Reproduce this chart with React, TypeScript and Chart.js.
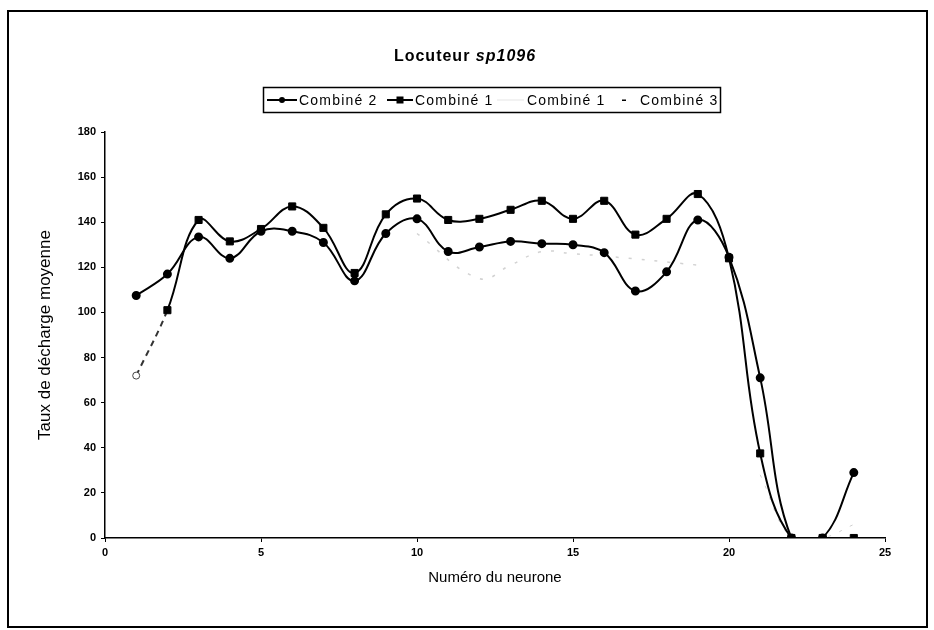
import React, { useEffect, useRef } from "react";
import { Chart, registerables } from "chart.js";

Chart.register(...registerables);

const neurons = [1, 2, 3, 4, 5, 6, 7, 8, 9, 10, 11, 12, 13, 14, 15, 16, 17, 18, 19, 20, 21, 22, 23, 24];
const combine2 = [107.5, 117, 133.5, 124, 136, 136, 131, 114, 135, 141.5, 127, 129, 131.5, 130.5, 130, 126.5, 109.5, 118, 141, 124.5, 71, 0, 0, 29];
const combine1 = [72, 101, 141, 131.5, 137, 147, 137.5, 117.5, 143.5, 150.5, 141, 141.5, 145.5, 149.5, 141.5, 149.5, 134.5, 141.5, 152.5, 124, 37.5, 0, 0, 0];
const combine1b = [72, null, null, null, null, null, null, 87, null, null, null, null, null, null, null, null, null, null, null, null, 28, 0, 0, 6];
const combine3 = [null, null, null, null, null, null, null, null, null, 135, null, 115, 121, 127, 126, 125, null, null, 121, null, null, null, null, null];

const xTicks = [0, 5, 10, 15, 20, 25];
const yTicks = [0, 20, 40, 60, 80, 100, 120, 140, 160, 180];

const legendLabels = ["Combiné 2", "Combiné 1", "Combiné 1", "Combiné 3"];
const titleMain = "Locuteur ";
const titleItalic = "sp1096";

const FONT = '"Liberation Sans", Arial, sans-serif';

const toPoints = (vals: (number | null)[]) => neurons.map((n, i) => ({ x: n, y: vals[i] }));

const decorPlugin = {
  id: "decor",
  afterDraw(chart: any) {
    const ctx = chart.ctx as CanvasRenderingContext2D;
    ctx.save();
    // outer frame
    ctx.strokeStyle = "#000";
    ctx.lineWidth = 2;
    ctx.strokeRect(8, 11, 919, 616);

    // title
    ctx.fillStyle = "#000";
    ctx.textBaseline = "middle";
    ctx.textAlign = "left";
    (ctx as any).letterSpacing = "1px";
    const f1 = `bold 16px ${FONT}`;
    const f2 = `italic bold 16px ${FONT}`;
    ctx.font = f1;
    const w1 = ctx.measureText(titleMain).width;
    ctx.font = f2;
    const w2 = ctx.measureText(titleItalic).width;
    const tx = 465 - (w1 + w2) / 2;
    ctx.font = f1;
    ctx.fillText(titleMain, tx, 57);
    ctx.font = f2;
    ctx.fillText(titleItalic, tx + w1, 57);

    // legend box
    ctx.lineWidth = 1.5;
    ctx.strokeRect(263.5, 87.5, 457, 25);
    const ly = 100;
    ctx.font = `14px ${FONT}`;
    (ctx as any).letterSpacing = "1.2px";

    // item 1
    ctx.strokeStyle = "#000";
    ctx.lineWidth = 2;
    ctx.beginPath();
    ctx.moveTo(267, ly);
    ctx.lineTo(297, ly);
    ctx.stroke();
    ctx.beginPath();
    ctx.arc(282, ly, 3, 0, Math.PI * 2);
    ctx.fill();
    ctx.fillText(legendLabels[0], 299, ly + 1);

    // item 2
    ctx.beginPath();
    ctx.moveTo(387, ly);
    ctx.lineTo(413, ly);
    ctx.stroke();
    ctx.fillRect(396.5, ly - 3.5, 7, 7);
    ctx.fillText(legendLabels[1], 415, ly + 1);

    // item 3 (faint)
    ctx.strokeStyle = "#f2f2f2";
    ctx.beginPath();
    ctx.moveTo(497, ly);
    ctx.lineTo(524, ly);
    ctx.stroke();
    ctx.fillText(legendLabels[2], 527, ly + 1);

    // item 4 (faint dashed)
    ctx.fillStyle = "#000";
    ctx.fillRect(622, ly - 0.5, 4, 1.5);
    ctx.fillText(legendLabels[3], 640, ly + 1);

    ctx.restore();
  },
};

export default function App() {
  const ref = useRef<HTMLCanvasElement | null>(null);

  useEffect(() => {
    if (!ref.current) return;
    Chart.defaults.font.family = FONT;
    const chart = new Chart(ref.current, {
      type: "line",
      data: {
        datasets: [
          {
            label: legendLabels[0],
            data: toPoints(combine2),
            borderColor: "#000",
            backgroundColor: "#000",
            borderWidth: 2,
            pointStyle: "circle",
            pointRadius: 3.5,
            pointBackgroundColor: "#000",
            pointBorderColor: "#000",
            tension: 0.4,
          },
          {
            label: legendLabels[1],
            data: toPoints(combine1),
            borderColor: "#000",
            backgroundColor: "#000",
            borderWidth: 2,
            pointStyle: neurons.map((_, i) => (i === 0 ? "circle" : "rect")) as any,
            pointRadius: neurons.map((_, i) => (i === 0 ? 3.5 : 5)),
            pointBackgroundColor: neurons.map((_, i) => (i === 0 ? "#fff" : "#000")),
            pointBorderColor: neurons.map((_, i) => (i === 0 ? "#444" : "#000")),
            pointBorderWidth: 1,
            tension: 0.4,
            segment: {
              borderDash: (c: any) => (c.p0DataIndex === 0 ? [6, 5] : undefined),
              borderColor: (c: any) => (c.p0DataIndex === 0 ? "#333" : undefined),
            },
          },
          {
            label: legendLabels[2],
            data: toPoints(combine1b),
            borderColor: "#d0d0d0",
            borderWidth: 1,
            borderDash: [3, 9],
            pointRadius: 0,
            spanGaps: false,
            tension: 0.4,
          },
          {
            label: legendLabels[3],
            data: toPoints(combine3),
            borderColor: "#d2d2d2",
            borderWidth: 1.5,
            borderDash: [3, 10],
            pointRadius: 0,
            spanGaps: true,
            tension: 0.4,
          },
        ],
      },
      options: {
        responsive: false,
        animation: false,
        layout: { padding: { left: 8, right: 49, top: 132, bottom: 32 } },
        plugins: {
          legend: { display: false },
          title: { display: false },
          tooltip: { enabled: false },
        },
        scales: {
          x: {
            type: "linear",
            min: 0,
            max: 25,
            afterBuildTicks: (s: any) => {
              s.ticks = xTicks.map((v) => ({ value: v }));
            },
            afterFit: (s: any) => {
              s.height = 60;
            },
            ticks: {
              color: "#000",
              font: { size: 11, weight: "bold" },
              padding: 4,
              maxRotation: 0,
            },
            grid: { drawOnChartArea: false, drawTicks: true, tickLength: 4, color: "#000" },
            border: { color: "#000", width: 1.5 },
            title: {
              display: true,
              text: "Numéro du neurone",
              color: "#000",
              font: { size: 15 },
              padding: { top: 0, bottom: 11 },
            },
          },
          y: {
            type: "linear",
            min: 0,
            max: 180,
            afterBuildTicks: (s: any) => {
              s.ticks = yTicks.map((v) => ({ value: v }));
            },
            afterFit: (s: any) => {
              s.width = 97;
            },
            ticks: {
              color: "#000",
              font: { size: 11, weight: "bold" },
              padding: 5,
            },
            grid: { drawOnChartArea: false, drawTicks: true, tickLength: 4, color: "#000" },
            border: { color: "#000", width: 1.5 },
            title: {
              display: true,
              text: "Taux de décharge moyenne",
              color: "#000",
              font: { size: 17 },
              padding: { top: 27, bottom: 0 },
            },
          },
        },
      },
      plugins: [decorPlugin],
    });
    return () => chart.destroy();
  }, []);

  return (
    <div style={{ position: "absolute", left: 0, top: 0, width: 934, height: 630, background: "#fff" }}>
      <canvas ref={ref} width={934} height={630} />
    </div>
  );
}
